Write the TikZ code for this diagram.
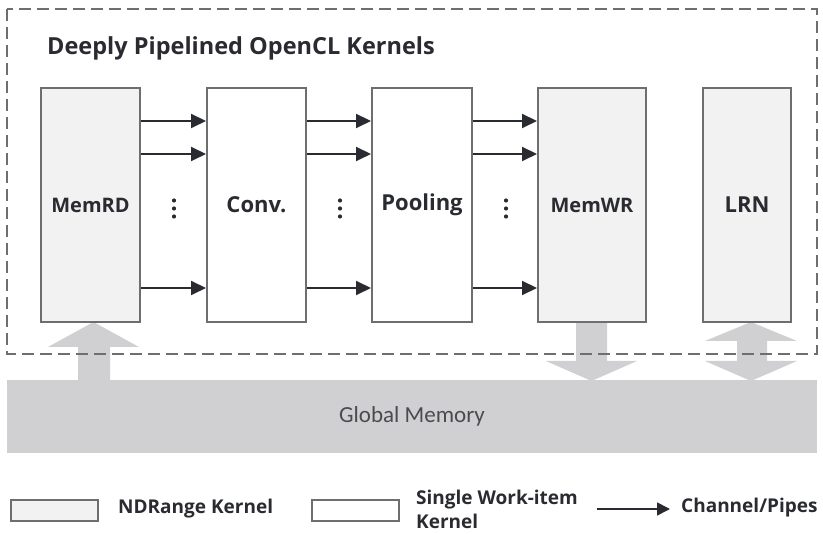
\documentclass[tikz,border=0pt]{standalone}
\usepackage{fontspec}
\setmainfont{Open Sans}
\newfontfamily\gmfont{Carlito}
\usetikzlibrary{arrows.meta,calc}
\definecolor{txt}{HTML}{2A2B30}
\definecolor{bord}{HTML}{6E6E6E}
\definecolor{lfill}{HTML}{F2F2F2}
\definecolor{band}{HTML}{D0D0D2}
\tikzset{
  kbox/.style={draw=bord, line width=2pt, minimum height=234pt, inner sep=0pt, text=txt, font=\bfseries\fontsize{22}{26}\selectfont},
  ndr/.style={kbox, fill=lfill},
  swi/.style={kbox, fill=white},
  smalllab/.style={font=\bfseries\fontsize{20}{24}\selectfont},
  chan/.style={draw=txt, line width=2pt, -{Triangle[length=15pt,width=14pt]}},
  blockarrow/.style={fill=band, draw=none},
  dotc/.style={fill=txt, draw=none},
  legtxt/.style={text=txt, font=\bfseries\fontsize{19}{24}\selectfont, anchor=west, inner sep=0pt, align=left},
}
\begin{document}
\begin{tikzpicture}[x=1pt, y=-1pt]
\useasboundingbox (0,0) rectangle (823,534);
% block arrows (under dashed line)
\fill[blockarrow] (78,386) -- (78,347) -- (48,347) -- (93.5,322) -- (139,347) -- (110,347) -- (110,386) -- cycle;
\fill[blockarrow] (576,322) -- (576,361) -- (546,361) -- (591.5,381) -- (637,361) -- (607,361) -- (607,322) -- cycle;
\fill[blockarrow] (751,322) -- (705,341) -- (737,341) -- (737,361) -- (705,361) -- (751,381) -- (797,361) -- (767,361) -- (767,341) -- (797,341) -- cycle;
% global memory band
\node[fill=band, minimum width=810pt, minimum height=73pt, inner sep=0pt, text=txt!85, font=\gmfont\fontsize{23}{27}\selectfont] (gmem) at (412,416.5) {Global Memory};
% dashed container
\draw[bord, line width=2.2pt, dash pattern=on 12pt off 6pt] (7,9) rectangle (817,354);
\node[anchor=west, inner sep=0pt, text=txt, font=\bfseries\fontsize{23.5}{28}\selectfont] (title) at (47,48) {Deeply Pipelined OpenCL Kernels};
% kernels
\node[ndr, smalllab, minimum width=99pt] (memrd) at (90.5,205) {MemRD};
\node[swi, minimum width=99pt] (conv) at (256.5,205) {Conv.};
\node[swi, minimum width=100pt] (pool) at (422,205) {Pooling};
\node[ndr, smalllab, minimum width=108pt] (memwr) at (592,205) {MemWR};
\node[ndr, minimum width=88pt] (lrn) at (747,205) {LRN};
% channel rows
\coordinate (ra) at (0,121);
\coordinate (rb) at (0,154);
\coordinate (rc) at (0,288);
\foreach \s/\t in {memrd/conv, conv/pool, pool/memwr}{
  \foreach \r in {ra,rb,rc}{
    \draw[chan] (\s.east |- \r) -- (\t.west |- \r);
  }
}
% ellipsis dots
\foreach \x in {174,340,506}{
  \foreach \y in {200.5,208.5,216.5}{
    \fill[dotc] (\x,\y) circle (2.1pt);
  }
}
% legend
\node[fill=lfill, draw=bord, line width=2pt, minimum width=87pt, minimum height=21pt, inner sep=0pt] (legnd) at (54.5,510.5) {};
\node[legtxt] (legndt) at (118,509) {NDRange Kernel};
\node[fill=white, draw=bord, line width=2pt, minimum width=87pt, minimum height=21pt, inner sep=0pt] (legsw) at (355.5,510.5) {};
\node[legtxt] (legswt) at (416,509.5) {Single Work-item\\Kernel};
\coordinate (lega) at (597,509);
\node[legtxt] (legch) at (681,508) {Channel/Pipes};
\draw[chan, line width=1.6pt, -{Triangle[length=13pt,width=13pt]}, shorten >=11pt] (lega) -- (lega -| legch.west);
\end{tikzpicture}
\end{document}
